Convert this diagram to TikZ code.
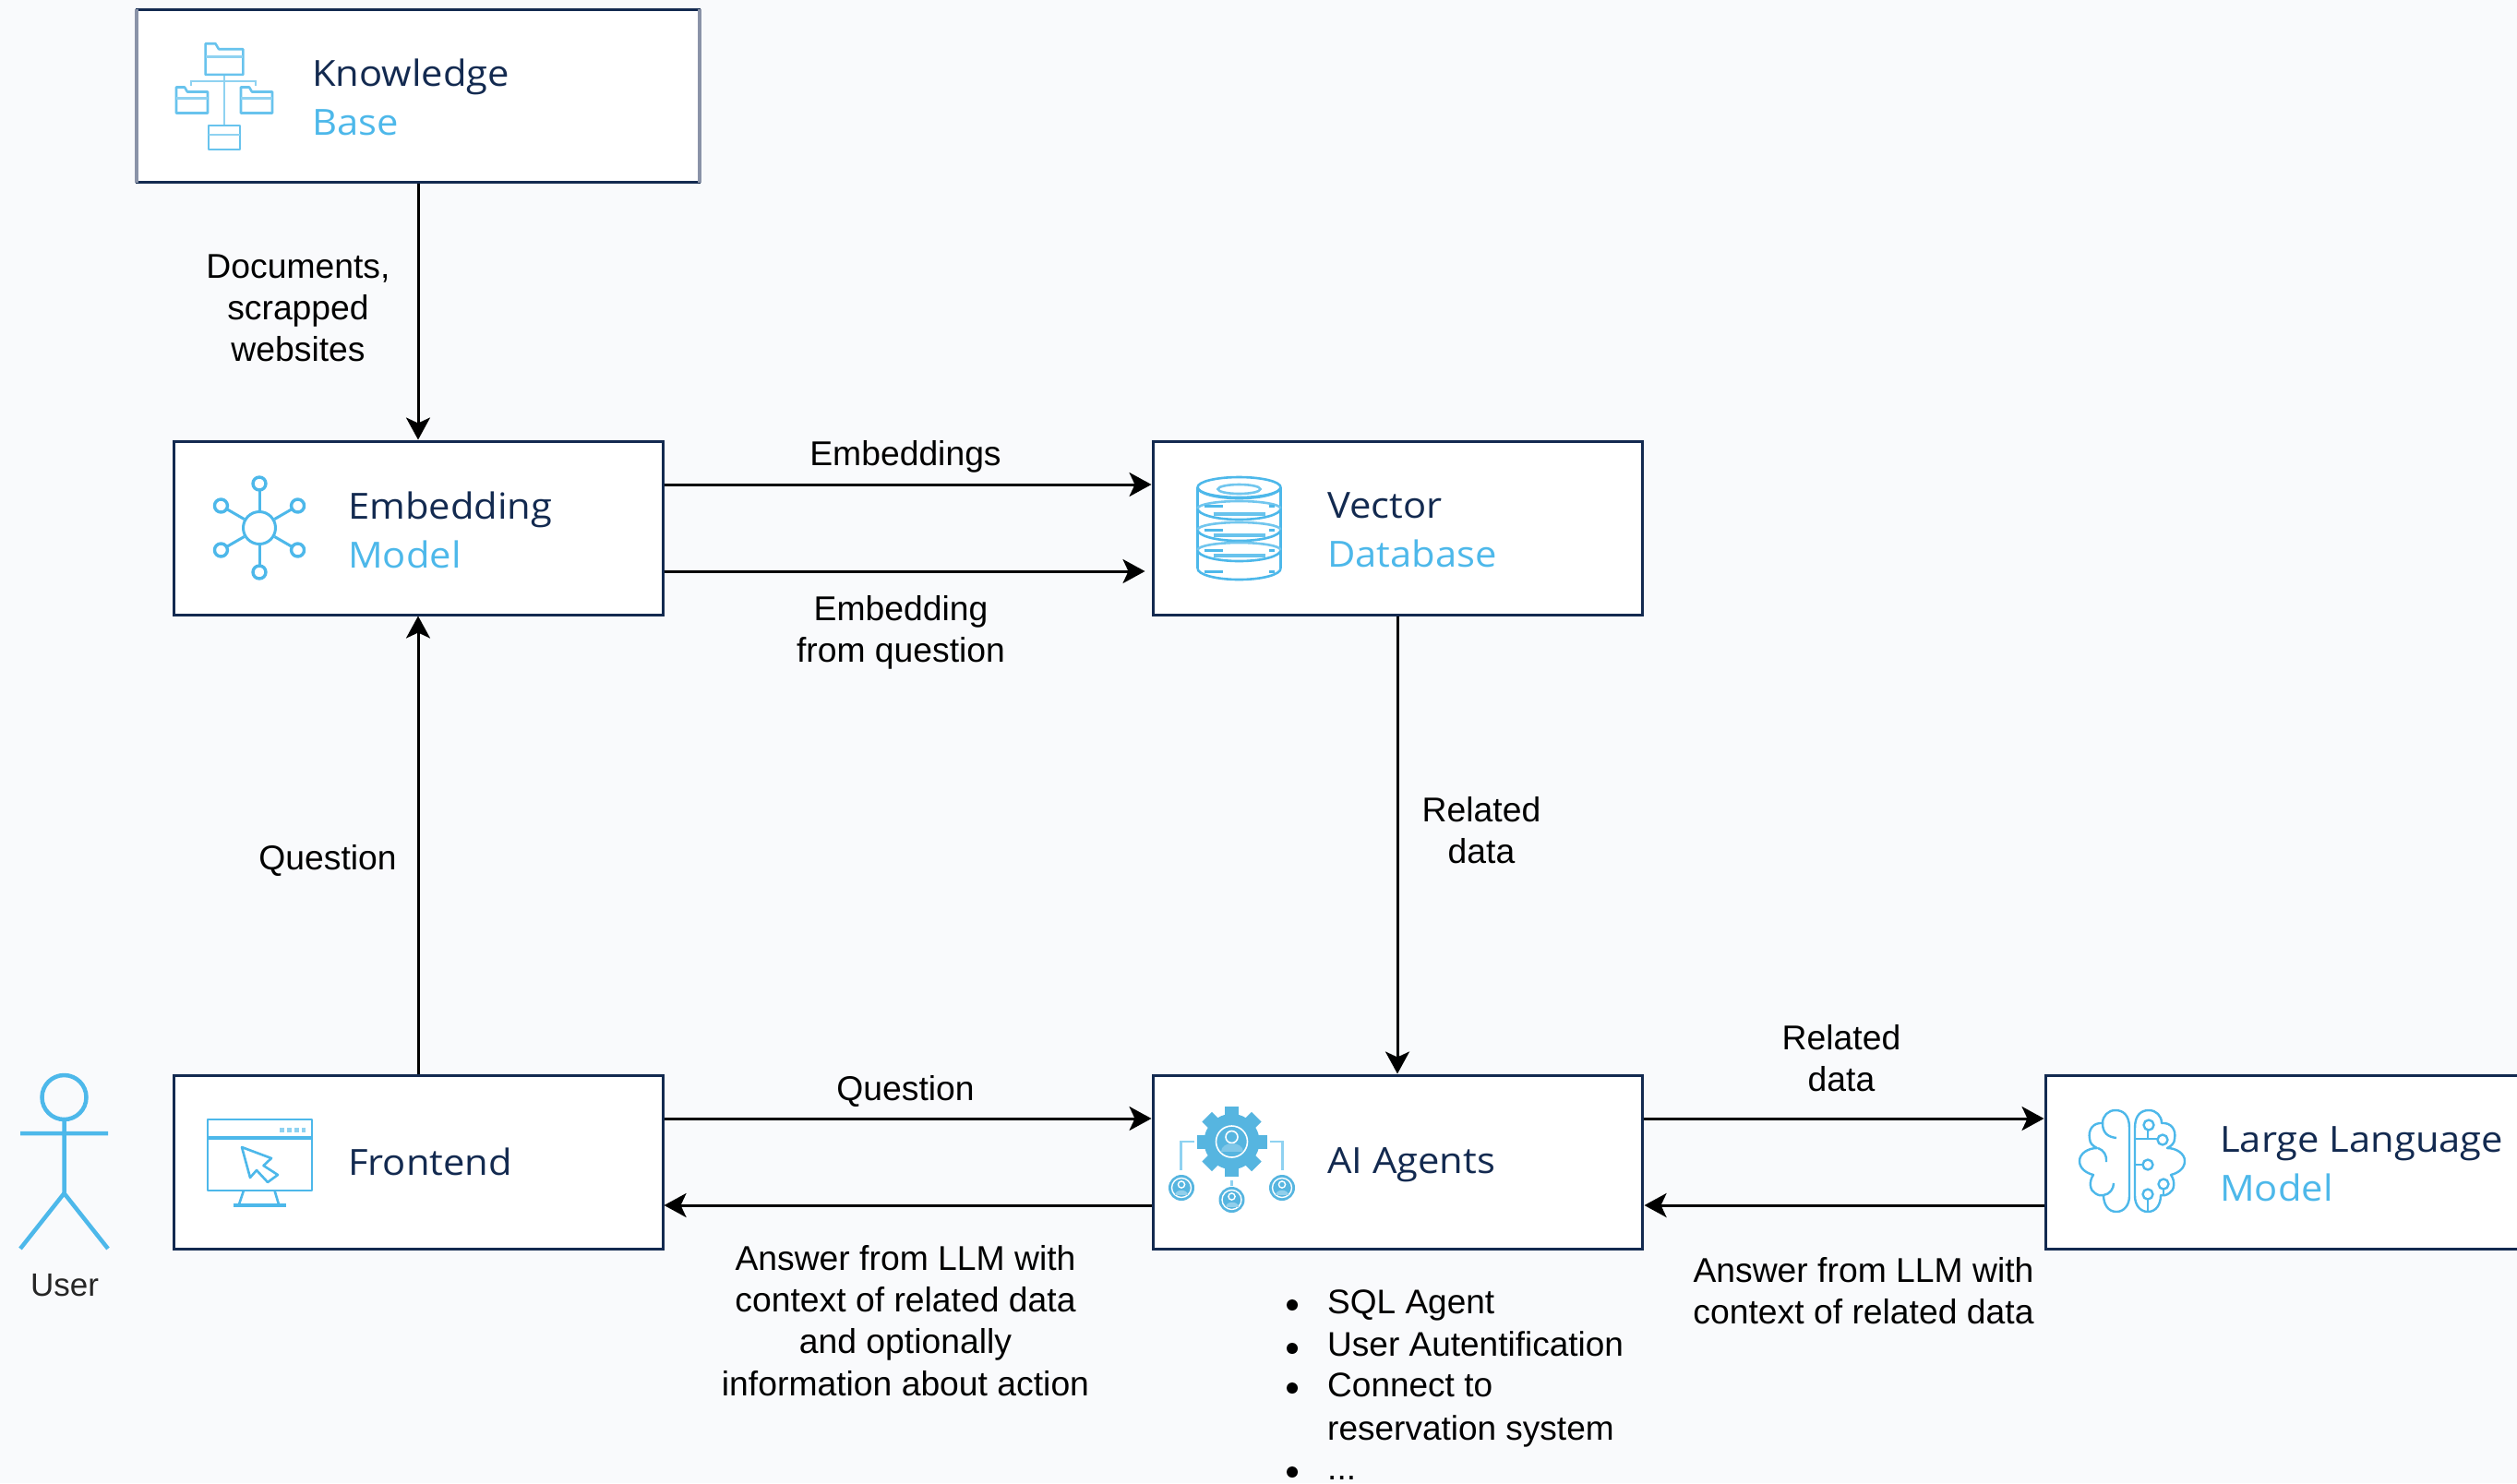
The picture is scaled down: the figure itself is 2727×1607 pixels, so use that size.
\documentclass[tikz,border=0pt]{standalone}
\usepackage{fontspec}
\setmainfont{Liberation Sans}
\newfontfamily\boxfont[FakeStretch=1.07]{Open Sans}
\usetikzlibrary{arrows.meta,calc}
\definecolor{pagebg}{HTML}{F9FAFC}
\definecolor{navy}{HTML}{132A50}
\definecolor{skyb}{HTML}{4DB8EA}
\definecolor{paleb}{HTML}{8FD2F1}
\definecolor{gearb}{HTML}{56B5E0}
\definecolor{sideg}{HTML}{8A93A8}
\tikzset{
  boxnode/.style={draw=navy,fill=white,line width=3pt,minimum width=530pt,minimum height=188pt,inner sep=0pt,rectangle},
  boxlabel/.style={align=left,inner sep=0pt,font=\boxfont\fontsize{39}{53}\selectfont,text=navy,anchor=west},
  edgelabel/.style={align=center,inner sep=0pt,text=black,font=\fontsize{37.3}{45.2}\selectfont},
  listitem/.style={inner sep=0pt,anchor=base west,text=black,font=\fontsize{37}{45}\selectfont},
  bulletdot/.style={circle,fill=black,inner sep=0pt,minimum size=12pt},
  link/.style={line width=3pt,draw=black,-{Stealth[length=24pt,width=26pt,inset=6pt]}},
  icon/.style={draw=skyb,line width=2.6pt,line join=round,fill=none},
  iconthin/.style={draw=paleb,line width=2.6pt},
  folderbox/.pic={
    \draw[icon,draw=skyb!85] (-17,-14) -- (-17,14) -- (-8,14) -- (-5,9) -- (17,9) -- (17,-14) -- cycle;
    \draw[iconthin] (-17,2) -- (17,2);
  },
  agentface/.pic={
    \fill[gearb] (0,0) circle (14);
    \draw[white,line width=1.4pt] (0,0) circle (10.5);
    \draw[white,line width=1.4pt] (0,3.5) circle (3.6);
    \fill[white!35!gearb] (-7,-8) .. controls (-7,-1) and (7,-1) .. (7,-8) -- cycle;
  }
}
\begin{document}
\begin{tikzpicture}[x=1pt,y=1pt]
\useasboundingbox (0,0) rectangle (2727,-1607);
\clip (0,0) rectangle (2727,-1607);
\fill[pagebg] (0,0) rectangle (2727,-1607);

% boxes
\node[boxnode,minimum width=609pt,minimum height=187pt] (kb) at (453,-103.5) {};
\node[boxnode] (emb) at (453,-572) {};
\node[boxnode] (vec) at (1514,-572) {};
\node[boxnode] (front) at (453,-1259) {};
\node[boxnode] (agents) at (1514,-1259) {};
\node[boxnode] (llm) at (2481,-1259) {};
\draw[sideg,line width=4.5pt] ([xshift=1pt,yshift=-1pt]kb.north west) -- ([xshift=1pt,yshift=1pt]kb.south west);
\draw[sideg,line width=4.5pt] ([xshift=-1pt,yshift=-1pt]kb.north east) -- ([xshift=-1pt,yshift=1pt]kb.south east);

% box labels
\node[boxlabel] (kbt) at (338,-105) {Knowledge\\\textcolor{skyb}{Base}};
\node[boxlabel] (embt) at (377,-574) {Embedding\\\textcolor{skyb}{Model}};
\node[boxlabel] (vect) at (1438,-574) {Vector\\\textcolor{skyb}{Database}};
\node[boxlabel] (frontt) at (377,-1259) {Frontend};
\node[boxlabel] (agentst) at (1438,-1262) {AI Agents};
\node[boxlabel] (llmt) at (2405,-1261) {Large Language\\\textcolor{skyb}{Model}};

% connectors
\draw[link] (kb.south) -- (emb.north);
\draw[link] ([yshift=47pt]emb.east) -- ([yshift=47pt]vec.west);
\draw[link,shorten >=7pt] ([yshift=-47pt]emb.east) -- ([yshift=-47pt]vec.west);
\draw[link] (front.north) -- (emb.south);
\draw[link] (vec.south) -- (agents.north);
\draw[link] ([yshift=47pt]front.east) -- ([yshift=47pt]agents.west);
\draw[link] ([yshift=-47pt]agents.west) -- ([yshift=-47pt]front.east);
\draw[link] ([yshift=47pt]agents.east) -- ([yshift=47pt]llm.west);
\draw[link,shorten >=1pt] ([yshift=-47pt]llm.west) -- ([yshift=-47pt]agents.east);

% connector labels
\node[edgelabel] (l1) at (323,-334) {Documents,\\scrapped\\websites};
\node[edgelabel] (l2) at (981,-495) {Embeddings};
\node[edgelabel] (l3) at (976,-685) {Embedding\\from question};
\node[edgelabel] (l4) at (355,-932) {Question};
\node[edgelabel] (l5) at (1605,-900) {Related\\data};
\node[edgelabel] (l6) at (981,-1182) {Question};
\node[edgelabel] (l7) at (981,-1431) {Answer from LLM with\\context of related data\\and optionally\\information about action};
\node[edgelabel] (l8) at (1995,-1147) {Related\\data};
\node[edgelabel] (l9) at (2019,-1399) {Answer from LLM with\\context of related data};

% list
\node[bulletdot] (b1) at (1400,-1414) {};
\node[bulletdot] (b2) at (1400,-1461) {};
\node[bulletdot] (b3) at (1400,-1504) {};
\node[bulletdot] (b4) at (1400,-1595) {};
\node[listitem] (i1) at (1438,-1423) {SQL Agent};
\node[listitem] (i2) at (1438,-1469) {User Autentification};
\node[listitem] (i3) at (1438,-1513) {Connect to};
\node[listitem] (i3b) at (1438,-1560) {reservation system};
\node[listitem] (i4) at (1438,-1603) {...};

% user
\draw[skyb,line width=4.5pt] (69.5,-1189) circle (24);
\draw[skyb,line width=4.5pt] (69.5,-1213) -- (69.5,-1293) (22,-1228) -- (117,-1228) (22,-1353) -- (69.5,-1293) -- (117,-1353);
\node[inner sep=0pt,text=black!85,font=\fontsize{35}{40}\selectfont] (usr) at (70,-1393) {User};

% folder tree icon
\begin{scope}
\draw[iconthin] (243,-81) -- (243,-135) (207,-93) -- (207,-88) -- (277,-88) -- (277,-93);
\path (243,-64) pic[scale=1.2] {folderbox};
\path (208,-108.5) pic {folderbox};
\path (278,-108.5) pic {folderbox};
\draw[icon,draw=skyb!85] (226,-162) rectangle (260,-136);
\draw[iconthin] (226,-146) -- (260,-146);
\end{scope}

% network icon
\begin{scope}[shift={(281,-572)}]
\draw[icon,line width=3pt] (0,0) circle (17.5);
\foreach \a in {90,150,210,270,330,30}{
  \draw[icon,line width=3pt] (\a:19) -- (\a:40);
  \draw[icon,fill=white,line width=3.4pt] (\a:48) circle (7);
}
\end{scope}

% database icon
\begin{scope}[shift={(1342.5,-528)}]
\draw[icon] (0,0) ellipse (45 and 11);
\draw[iconthin,draw=skyb!80] (0,-2) ellipse (23 and 5);
\draw[icon] (-45,0) -- (-45,-88) (45,0) -- (45,-88);
\foreach \y in {0,-23,-46,-68,-88}{
  \draw[icon] (-45,\y) arc[start angle=180,end angle=360,x radius=45,y radius=12];
}
\foreach \y in {-23,-46,-68}{
  \draw[icon,draw=skyb!80] (-45,\y) arc[start angle=180,end angle=0,x radius=45,y radius=8];
  \draw[icon,line width=4pt,draw=skyb!85] (-28,\y-6) -- (28,\y-6);
}
\foreach \y in {-20,-46,-68,-91}{
  \draw[icon,line width=3pt] (-38,\y) -- (-18,\y);
  \draw[icon,line width=3pt] (32,\y) -- (38,\y);
}
\end{scope}

% frontend icon
\draw[icon] (225,-1213) rectangle (338,-1290);
\draw[icon,line width=3.4pt] (225,-1233) -- (338,-1233);
\draw[icon,draw=paleb,line width=5pt,dash pattern=on 5pt off 3pt] (303,-1224) -- (331,-1224);
\draw[icon] (264,-1290) -- (259,-1305) (297.5,-1290) -- (302,-1305);
\draw[icon,line width=4.5pt] (252.5,-1306) -- (310,-1306);
\draw[icon] (262,-1243) -- (294,-1255) -- (285.5,-1263) -- (301,-1273) -- (290,-1281) -- (278,-1268) -- (271,-1276) -- cycle;

% agents icon
\begin{scope}[shift={(1334.5,-1237)}]
\fill[gearb] (0,0) circle (30);
\foreach \a in {0,45,...,315}{
  \fill[gearb,rotate=\a] (-7.5,26) rectangle (7.5,38);
}
\draw[white,line width=1.6pt] (0,0) circle (17);
\draw[white,line width=1.6pt] (0,5) circle (6.5);
\fill[white!25!gearb] (-12,-11) .. controls (-12,1) and (12,1) .. (12,-11) -- cycle;
\draw[paleb,line width=2.6pt] (-41,0) -- (-55,0) -- (-55,-31) (41,0) -- (55,0) -- (55,-31);
\draw[paleb,line width=2.6pt] (0,-42) -- (0,-48);
\end{scope}
\path (1280,-1287) pic {agentface};
\path (1334.5,-1300) pic {agentface};
\path (1389,-1287) pic {agentface};

% brain icon
\begin{scope}[shift={(2310,-1258)}]
\foreach \s in {1,-1}{
\begin{scope}[xscale=\s]
\draw[icon,line width=2.4pt] (-3,36) .. controls (-3,50) and (-10,55) .. (-18,55)
  .. controls (-26,55) and (-32,49) .. (-32,41)
  .. controls (-42,42) and (-48,34) .. (-46,24) .. controls (-46,19) and (-42,16) .. (-38,14)
  .. controls (-48,14) and (-57,8) .. (-57,0) .. controls (-57,-8) and (-50,-13) .. (-42,-15)
  .. controls (-47,-22) and (-46,-32) .. (-40,-35) .. controls (-37,-37) and (-34,-38) .. (-31,-37)
  .. controls (-31,-47) and (-26,-55) .. (-17,-55)
  .. controls (-9,-55) and (-3,-48) .. (-3,-38) -- cycle;
\end{scope}}
\draw[icon,line width=2.4pt] (-32,41) .. controls (-32,30) and (-26,26) .. (-17,25);
\draw[icon,line width=2.4pt] (-37,14) .. controls (-31,12) and (-27,6) .. (-28,-1);
\draw[icon,line width=2.4pt] (-31,-37) .. controls (-24,-36) and (-20,-30) .. (-20,-24);
\draw[icon,line width=2.4pt] (3,24) -- (33,24) (17,24) -- (17,34);
\draw[icon,line width=2.4pt,fill=white] (18,39) circle (5.5) (33,23) circle (5.5);
\draw[icon,line width=2.4pt] (3,-4) -- (12,-4);
\draw[icon,line width=2.4pt,fill=white] (17,-4) circle (5.5);
\draw[icon,line width=2.4pt] (34,-31) -- (34,-37);
\draw[icon,line width=2.4pt,fill=white] (34,-25) circle (5.5);
\draw[icon,line width=2.4pt] (17,-42) -- (17,-55);
\draw[icon,line width=2.4pt,fill=white] (17,-36) circle (5.5);
\end{scope}
\end{tikzpicture}
\end{document}
